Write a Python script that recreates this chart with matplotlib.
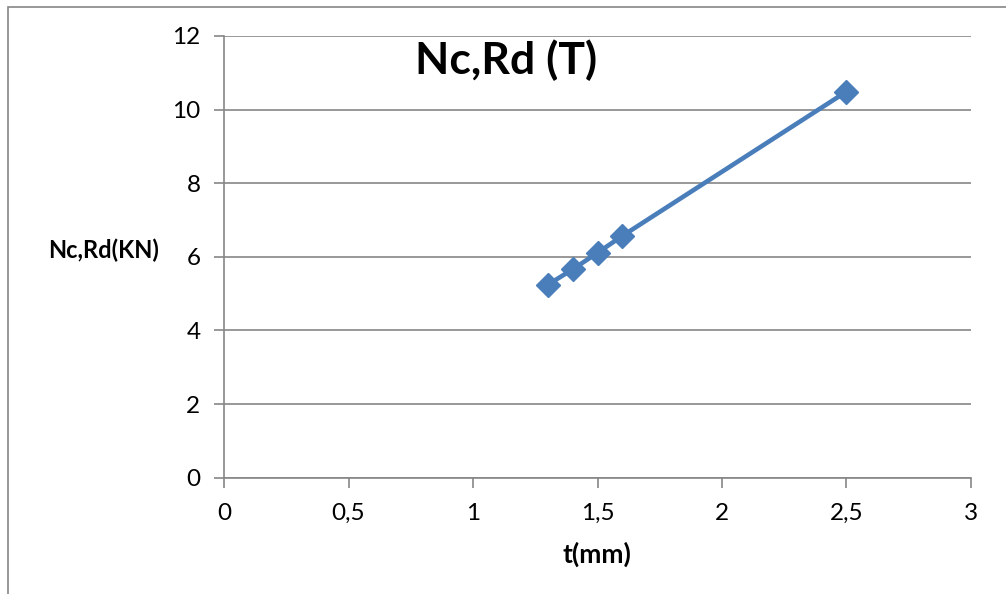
import matplotlib.pyplot as plt
from matplotlib.patches import Rectangle

plt.rcParams["font.family"] = ["Lato", "DejaVu Sans"]

t_mm = [1.3, 1.4, 1.5, 1.6, 2.5]
ncrd = [5.24, 5.66, 6.11, 6.57, 10.49]

x_ticks = [0, 0.5, 1, 1.5, 2, 2.5, 3]
x_labels = ["0", "0,5", "1", "1,5", "2", "2,5", "3"]
y_ticks = [0, 2, 4, 6, 8, 10, 12]

GRAY = "#868686"
BLUE = "#4A7EBB"

fig = plt.figure(figsize=(10.06, 5.94), dpi=100)
ax = fig.add_axes([0.2227, 0.1958, 0.7425, 0.7436])

ax.plot(t_mm, ncrd, color=BLUE, lw=3.3, marker="D", markersize=12.5,
        markerfacecolor=BLUE, markeredgecolor=BLUE, mew=1, zorder=3)

ax.set_xlim(0, 3)
ax.set_ylim(0, 12)
ax.set_xticks(x_ticks)
ax.set_xticklabels(x_labels)
ax.set_yticks(y_ticks)
ax.tick_params(axis="both", labelsize=17.5, color=GRAY, length=7,
               width=1.2, direction="out")
ax.tick_params(axis="x", pad=11)
ax.tick_params(axis="y", pad=10)

ax.grid(axis="y", color=GRAY, lw=1.2)
ax.set_axisbelow(True)
for side in ["top", "right"]:
    ax.spines[side].set_visible(False)
for side in ["left", "bottom"]:
    ax.spines[side].set_color(GRAY)
    ax.spines[side].set_linewidth(1.2)

fig.text(0.503, 0.898, "Nc,Rd (T)", fontsize=32, fontweight="bold",
         ha="center", va="center")
fig.text(0.103, 0.579, "Nc,Rd(KN)", fontsize=17, fontweight="bold",
         ha="center", va="center")
fig.text(0.593, 0.066, "t(mm)", fontsize=19, fontweight="bold",
         ha="center", va="center")

# chart area border (cut off at right and bottom in the original)
fig.patches.append(Rectangle((8 / 1006, -0.1), 1.2, 1.1 - 7 / 594,
                             transform=fig.transFigure, fill=False,
                             edgecolor=GRAY, lw=1.2))

fig.savefig("out.png", dpi=100)
